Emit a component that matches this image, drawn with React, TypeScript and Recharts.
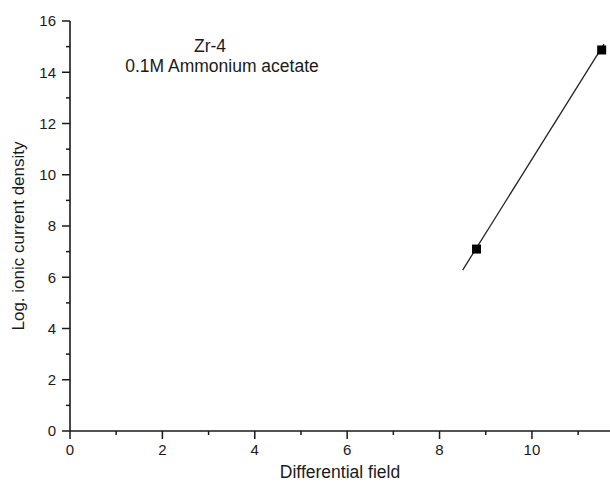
import React from 'react';
import {
  ComposedChart,
  Line,
  Scatter,
  XAxis,
  YAxis,
  Label,
} from 'recharts';

// measured points
const fieldValues = [8.8, 11.51];
const logCurrentValues = [7.1, 14.87];

// linear fit drawn through them
const fitField = [8.5, 11.56];
const fitLogCurrent = [6.28, 15.1];

const xTicks = [0, 1, 2, 3, 4, 5, 6, 7, 8, 9, 10, 11];
const yTicks = [0, 1, 2, 3, 4, 5, 6, 7, 8, 9, 10, 11, 12, 13, 14, 15, 16];

const sampleName = 'Zr-4';
const electrolyte = '0.1M Ammonium acetate';

const FONT = '"Liberation Sans", Arial, sans-serif';
const INK = '#1a1a1a';

const points = fieldValues.map((x, i) => ({ x, y: logCurrentValues[i] }));
const fitLine = fitField.map((x, i) => ({ x, y: fitLogCurrent[i] }));

const YTick = (props: any) => {
  const { x, y, payload } = props;
  const major = payload.value % 2 === 0;
  return (
    <g>
      <line x1={x - (major ? 8 : 4)} x2={x} y1={y} y2={y} stroke={INK} strokeWidth={1.5} />
      {major && (
        <text x={x - 14} y={y} dy="0.36em" textAnchor="end" fontSize={15} fontFamily={FONT} fill={INK}>
          {payload.value}
        </text>
      )}
    </g>
  );
};

const XTick = (props: any) => {
  const { x, y, payload } = props;
  const major = payload.value % 2 === 0;
  return (
    <g>
      <line x1={x} x2={x} y1={y} y2={y + (major ? 8 : 4)} stroke={INK} strokeWidth={1.5} />
      {major && (
        <text x={x} y={y + 19} dy="0.36em" textAnchor="middle" fontSize={15} fontFamily={FONT} fill={INK}>
          {payload.value}
        </text>
      )}
    </g>
  );
};

const SquareDot = (props: any) => {
  const { cx, cy } = props;
  if (cx == null || cy == null) return null;
  return <rect x={cx - 4.5} y={cy - 4.5} width={9} height={9} fill="#000" />;
};

const App = () => {
  return (
    <div style={{ position: 'absolute', left: 0, top: 0, width: 610, height: 485, background: '#fff' }}>
      <ComposedChart
        width={610}
        height={485}
        margin={{ top: 21, right: 0, bottom: 0, left: 0 }}
      >
        <XAxis
          type="number"
          dataKey="x"
          domain={[0, 11.69]}
          ticks={xTicks}
          interval={0}
          allowDataOverflow
          tick={<XTick />}
          tickLine={false}
          tickSize={0}
          tickMargin={0}
          height={54}
          axisLine={{ stroke: INK, strokeWidth: 1.6 }}
        >
          <Label
            content={() => (
              <text x={340} y={472} dy="0.36em" textAnchor="middle" fontSize={17.5} fontFamily={FONT} fill={INK}>
                Differential field
              </text>
            )}
          />
        </XAxis>
        <YAxis
          type="number"
          dataKey="y"
          domain={[0, 16]}
          ticks={yTicks}
          interval={0}
          tick={<YTick />}
          tickLine={false}
          tickSize={0}
          tickMargin={0}
          width={70}
          axisLine={{ stroke: INK, strokeWidth: 1.6 }}
        >
          <Label
            content={() => (
              <g>
                <text
                  x={18}
                  y={236}
                  dy="0.36em"
                  textAnchor="middle"
                  fontSize={17}
                  fontFamily={FONT}
                  fill={INK}
                  transform="rotate(-90 18 236)"
                >
                  Log. ionic current density
                </text>
                <text x={210} y={46} dy="0.36em" textAnchor="middle" fontSize={17.5} fontFamily={FONT} fill={INK}>
                  {sampleName}
                </text>
                <text x={222} y={66} dy="0.36em" textAnchor="middle" fontSize={17.5} fontFamily={FONT} fill={INK}>
                  {electrolyte}
                </text>
              </g>
            )}
          />
        </YAxis>
        <Line
          data={fitLine}
          dataKey="y"
          type="linear"
          stroke="#222"
          strokeWidth={1.3}
          dot={false}
          activeDot={false}
          isAnimationActive={false}
        />
        <Scatter
          data={points}
          dataKey="y"
          fill="#000"
          shape={<SquareDot />}
          isAnimationActive={false}
        />
      </ComposedChart>
    </div>
  );
};

export default App;
